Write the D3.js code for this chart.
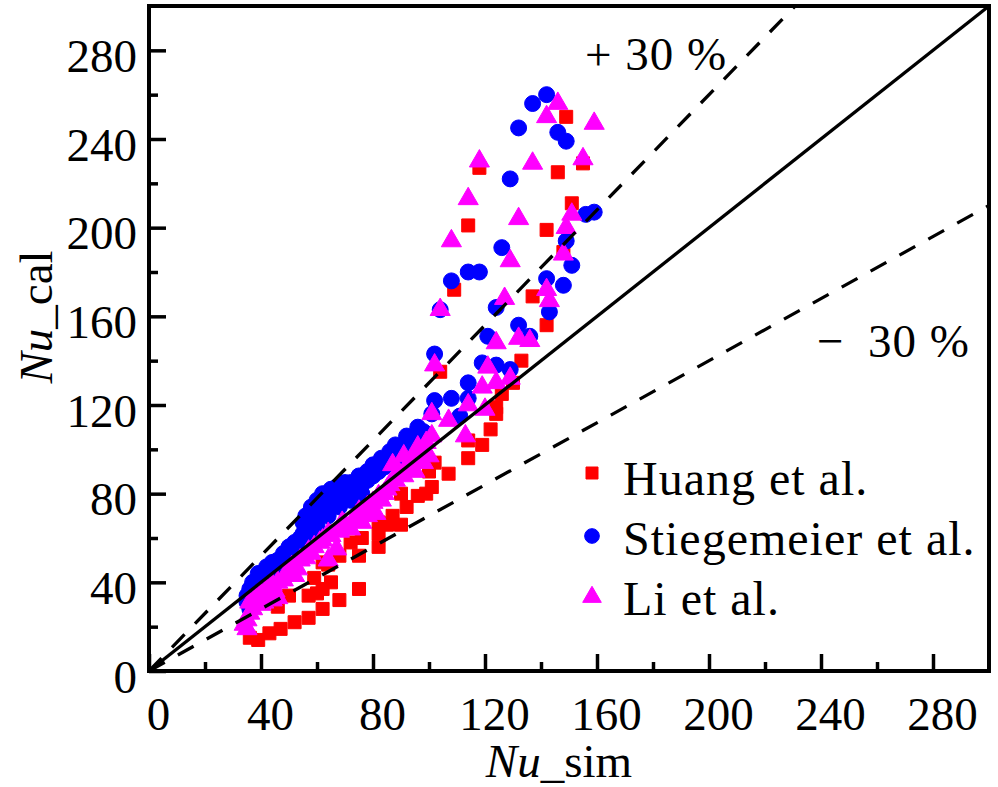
<!DOCTYPE html>
<html><head><meta charset="utf-8">
<script src="https://cdn.jsdelivr.net/npm/d3@7"></script>
<style>
html,body{margin:0;padding:0;background:#fff;}
text{font-family:"Liberation Serif","Times New Roman",serif;fill:#000;}
</style>
</head><body>
<svg id="chart" width="998" height="787"></svg>
<script>
const majorTicks=[0,40,80,120,160,200,240,280];
const minorTicks=[20,60,100,140,180,220,260];
const seriesNames=["Huang et al.","Stiegemeier et al.","Li et al."];
const seriesColors=["#ff0000","#0000ff","#ff00ff"];
const refLines=[["solid",1.0],["dash",1.3],["dash",0.7]];

const huang=[[36,15],[39,14],[43,17],[47,19],[52,22],[57,24],[62,28],[68,32],[75,37],
[46,29],[50,34],[57,34],[60,35],[62,37],[65,40],[59,42],
[62,49],[64,48],[68,52],[72,58],[75,52],[76,60],[82,56],[82,62],[82,67],[85,66],[87,70],[90,66],[90,80],[92,74],[96,79],[99,80],[101,83],[100,90],[102,94],[107,89],[104,135],[114,96],[114,104],[119,102],[122,109],[124,116],[124,119],[126,125],[130,130],[133,140],
[109,172],[114,201],[118,227],[142,156],[137,169],[142,199],[146,225],[148,189],[149,250],[151,211],[155,229]];

const stiegemeier=[[35,31],[36,28],[37,33],[38,36],[40,38],[40,42],[42,44],[44,41],[43,46],[45,47],[47,44],[48,49],[51,48],[50,52],[53,55],
[35,34],[36,37],[37,40],[39,44],[42,47],[44,49],[46,50],[48,53],[50,56],[52,58],[55,62],[57,64],[58,62],[58,68],[60,66],[60,70],[62,72],[63,75],[64,70],[65,76],[66,79],[68,74],[68,78],[70,80],[72,77],[72,80],[74,82],[76,80],[76,84],[78,86],[80,88],[82,90],[84,92],[86,95],[90,97],[93,100],[95,104],[98,108],
[54,60],[55,67],[56,70],[58,74],[60,77],[62,80],[65,82],[67,83],[70,85],[72,85],[75,88],[78,90],[80,93],[83,96],[86,99],[88,102],[92,106],[96,110],[101,116],[102,122],[108,123],[114,123],[111,115],[114,130],[102,143],[119,139],[124,138],[129,136],[121,151],[136,151],[132,156],[143,162],[104,163],[124,164],[108,176],[114,180],[118,180],[142,177],[148,174],[126,191],[149,194],[151,183],[156,206],[159,207],[129,222],[132,245],[146,243],[149,239],[137,256],[142,260]];

const li=[[35,19],[35,23],[36,26],[37,28],[41,31],[44,32],[46,33],[48,41],[50,43],[53,46],[56,51],[58,53],[61,58],[64,50],[64,62],[67,55],[69,67],[72,64],[74,70],[76,67],[78,74],[81,71],[83,77],[85,82],[87,93],[88,86],[91,97],[91,88],[96,101],[100,97],[101,106],
[34,21],[36,31],[38,33],[40,30],[40,35],[42,37],[44,39],[45,36],[46,40],[49,44],[51,47],[52,43],[54,50],[57,54],[59,56],[62,59],[65,61],[68,63],[70,66],[73,68],[75,72],[78,70],[80,76],[82,79],[84,80],[86,84],[89,90],[92,92],[94,96],[95,90],[97,99],[98,94],[99,103],
[101,116],[102,138],[104,163],[107,113],[108,194],[113,106],[114,120],[114,213],[118,230],[119,128],[120,118],[121,137],[124,130],[124,148],[127,168],[129,132],[129,185],[132,150],[132,204],[136,149],[137,229],[142,172],[143,167],[142,250],[146,256],[148,188],[149,200],[151,206],[155,231],[159,247]];

const seriesData=[huang,stiegemeier,li];
const seriesSymbols=[d3.symbolSquare,d3.symbolCircle,d3.symbolTriangle];
const plotSizes=[169,200,175];
const legendSizes=[144,170,150];

const svg=d3.select("#chart");
const x=d3.scaleLinear().domain([0,300]).range([149,989]);
const y=d3.scaleLinear().domain([0,300]).range([671,6]);
const FS=47;

// points
seriesData.forEach((data,i)=>{
  svg.append("g").selectAll("path").data(data).enter().append("path")
    .attr("d",d3.symbol().type(seriesSymbols[i]).size(plotSizes[i]))
    .attr("transform",d=>`translate(${x(d[0])},${y(d[1])})`)
    .attr("fill",seriesColors[i])
    .attr("stroke",seriesColors[i]).attr("stroke-width",1).attr("stroke-linejoin","round");
});

// reference lines
const lineGen=d3.line().x(d=>x(d[0])).y(d=>y(d[1]));
refLines.forEach(([style,k])=>{
  const xe=Math.min(300,300/k);
  svg.append("path").attr("d",lineGen([[0,0],[xe,xe*k]]))
    .attr("fill","none").attr("stroke","#000").attr("stroke-width",3.3)
    .attr("stroke-dasharray",style==="dash"?"18,15":null);
});

// axes
function styleAxis(g){g.select(".domain").remove();g.selectAll(".tick line").attr("stroke","#000").attr("stroke-width",3.5);}
const xMajor=svg.append("g").attr("transform","translate(0,671)")
  .call(d3.axisBottom(x).tickValues(majorTicks).tickSize(-17).tickFormat(d3.format("d")));
styleAxis(xMajor);
xMajor.selectAll("text").attr("y",59).attr("dy",0).attr("x",9).attr("font-size",FS).attr("font-family","Liberation Serif").attr("fill","#000");
const xMinor=svg.append("g").attr("transform","translate(0,671)")
  .call(d3.axisBottom(x).tickValues(minorTicks).tickSize(-9).tickFormat(""));
styleAxis(xMinor);
const yMajor=svg.append("g").attr("transform","translate(149,0)")
  .call(d3.axisLeft(y).tickValues(majorTicks).tickSize(-17).tickFormat(d3.format("d")));
styleAxis(yMajor);
yMajor.selectAll("text").attr("x",-12).attr("dy",0).attr("y",21).attr("font-size",FS).attr("font-family","Liberation Serif").attr("fill","#000");
const yMinor=svg.append("g").attr("transform","translate(149,0)")
  .call(d3.axisLeft(y).tickValues(minorTicks).tickSize(-9).tickFormat(""));
styleAxis(yMinor);

// frame
svg.append("rect").attr("x",x(0)).attr("y",y(300)).attr("width",x(300)-x(0)).attr("height",y(0)-y(300))
  .attr("fill","none").attr("stroke","#000").attr("stroke-width",4);

// axis titles
const xt=svg.append("text").attr("x",559).attr("y",777).attr("text-anchor","middle").attr("font-size",FS);
xt.append("tspan").attr("font-style","italic").text("Nu");
xt.append("tspan").text("_sim");
const yt=svg.append("text").attr("transform","translate(52,317) rotate(-90)").attr("text-anchor","middle").attr("font-size",FS);
yt.append("tspan").attr("font-style","italic").text("Nu");
yt.append("tspan").text("_cal");

// percent labels
svg.append("text").attr("x",585).attr("y",70).attr("font-size",FS).attr("letter-spacing",1).text("+ 30 %");
svg.append("text").attr("x",817).attr("y",357).attr("font-size",FS).text("\u2212");
svg.append("text").attr("x",868).attr("y",357).attr("font-size",FS).attr("letter-spacing",1).text("30 %");

// legend
const legY=[473,536,597];
const legTextY=[495,555,615];
seriesNames.forEach((n,i)=>{
  svg.append("path").attr("d",d3.symbol().type(seriesSymbols[i]).size(legendSizes[i]))
    .attr("transform",`translate(592,${legY[i]})`).attr("fill",seriesColors[i])
    .attr("stroke",seriesColors[i]).attr("stroke-width",1).attr("stroke-linejoin","round");
  svg.append("text").attr("x",623).attr("y",legTextY[i]).attr("font-size",48).attr("letter-spacing",1).text(n);
});
</script>
</body></html>
